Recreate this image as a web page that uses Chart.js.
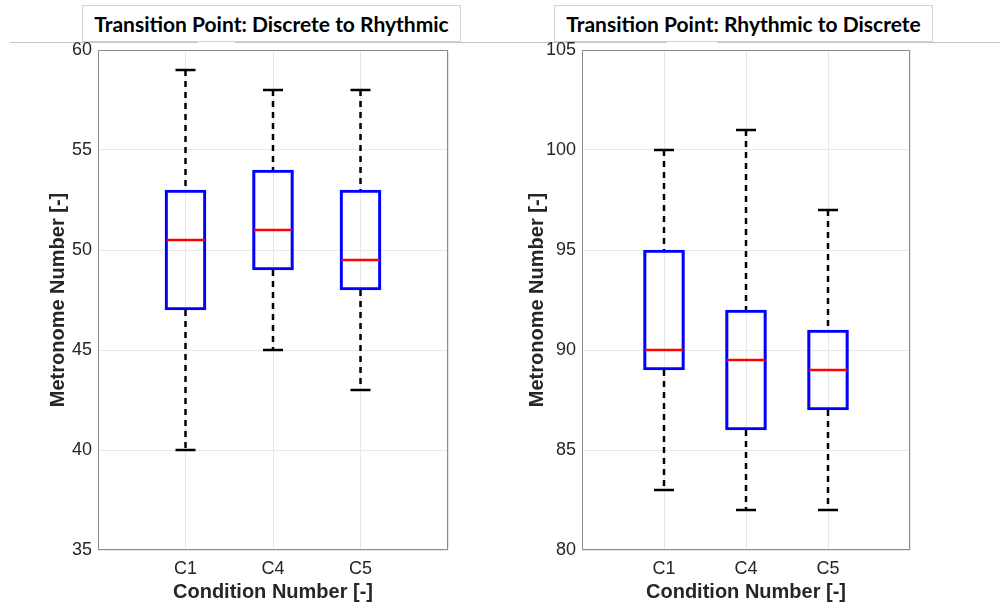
<!DOCTYPE html>
<html>
<head>
<meta charset="utf-8">
<script src="https://cdn.jsdelivr.net/npm/chart.js@4.4.1/dist/chart.umd.min.js"></script>
<style>
  html, body { margin: 0; padding: 0; background: #fff; }
  #page { position: relative; width: 1000px; height: 614px; overflow: hidden; }
  canvas { position: absolute; top: 0; }
  .rule { position: absolute; top: 42px; height: 1px; background: #c4c4c4; }
  .title-box {
    position: absolute; top: 5px; height: 37px; background: #fff;
    border: 1px solid #d2d2d2; box-sizing: border-box;
    font-family: Lato, "Open Sans", sans-serif; font-weight: bold; font-size: 21px;
    color: #000; text-align: center; line-height: 36px; z-index: 2;
  }
</style>
</head>
<body>
<div id="page">
  <div class="rule" style="left:10px; width:188px;"></div>
  <div class="rule" style="left:235px; width:432px;"></div>
  <div class="rule" style="left:717px; width:283px;"></div>
  <div class="title-box" style="left:82px; width:379px;">Transition Point: Discrete to Rhythmic</div>
  <div class="title-box" style="left:554px; width:379px;">Transition Point: Rhythmic to Discrete</div>
  <canvas id="left" width="500" height="614" style="left:0;"></canvas>
  <canvas id="right" width="500" height="614" style="left:500px;"></canvas>
</div>
<script>
// Conditions on the x axis
const categories = ['C1', 'C4', 'C5'];

// Discrete -> rhythmic transition (metronome number)
const drMin = [40, 45, 43];
const drQ1 = [47, 49, 48];
const drMedian = [50.5, 51, 49.5];
const drQ3 = [53, 54, 53];
const drMax = [59, 58, 58];

// Rhythmic -> discrete transition (metronome number)
const rdMin = [83, 82, 82];
const rdQ1 = [89, 86, 87];
const rdMedian = [90, 89.5, 89];
const rdQ3 = [95, 92, 91];
const rdMax = [100, 101, 97];

// y axis ranges
const drRange = [35, 60];
const rdRange = [80, 105];

const tickFont = { family: '"Liberation Sans", Arial, sans-serif', size: 18 };
const titleFont = { family: '"Liberation Sans", Arial, sans-serif', size: 20, weight: 'bold' };

// whiskers, caps, medians and the axes frame
const boxExtras = {
    id: 'boxExtras',
    beforeDatasetsDraw(chart) {
        const { ctx, scales: { x, y } } = chart;
        const s = chart.options.plugins.boxExtras;
        ctx.save();
        ctx.strokeStyle = '#000';
        ctx.lineWidth = 2.5;
        s.min.forEach((v, i) => {
            const px = x.getPixelForValue(i + 1);
            ctx.setLineDash([6, 5]);
            ctx.beginPath();
            ctx.moveTo(px, y.getPixelForValue(s.max[i]));
            ctx.lineTo(px, y.getPixelForValue(s.q3[i]));
            ctx.moveTo(px, y.getPixelForValue(s.q1[i]));
            ctx.lineTo(px, y.getPixelForValue(v));
            ctx.stroke();
            ctx.setLineDash([]);
            ctx.beginPath();
            [v, s.max[i]].forEach(w => {
                const py = y.getPixelForValue(w);
                ctx.moveTo(px - 10, py);
                ctx.lineTo(px + 10, py);
            });
            ctx.stroke();
        });
        ctx.restore();
    },
    afterDatasetsDraw(chart) {
        const { ctx, chartArea: a, scales: { x, y } } = chart;
        const s = chart.options.plugins.boxExtras;
        ctx.save();
        ctx.strokeStyle = '#ff0000';
        ctx.lineWidth = 2.5;
        s.median.forEach((v, i) => {
            const px = x.getPixelForValue(i + 1);
            const py = y.getPixelForValue(v);
            ctx.beginPath();
            ctx.moveTo(px - 19, py);
            ctx.lineTo(px + 19, py);
            ctx.stroke();
        });
        ctx.strokeStyle = '#8a8a8a';
        ctx.lineWidth = 1;
        ctx.strokeRect(a.left + 0.5, a.top + 0.5, a.right - a.left - 1, a.bottom - a.top - 1);
        ctx.restore();
    }
};

function makeBoxChart(id, stats, range, axisWidth, titlePad, padRight) {
    new Chart(document.getElementById(id), {
        type: 'bar',
        data: {
            datasets: [{
                data: stats.q1.map((q, i) => ({ x: i + 1, y: [q, stats.q3[i]] })),
                backgroundColor: 'rgba(0,0,0,0)',
                borderColor: '#0000ff',
                borderWidth: 2.5,
                borderSkipped: false,
                barThickness: 41
            }]
        },
        options: {
            responsive: false,
            animation: false,
            layout: { padding: { top: 50, right: padRight, bottom: 0, left: 0 } },
            plugins: {
                legend: { display: false },
                tooltip: { enabled: false },
                boxExtras: stats
            },
            scales: {
                x: {
                    type: 'linear',
                    min: 0,
                    max: 4,
                    offset: false,
                    grid: { color: '#e8e8e8', drawTicks: false, offset: false },
                    border: { display: false },
                    ticks: {
                        stepSize: 1,
                        padding: 8,
                        color: '#262626',
                        font: tickFont,
                        callback: v => categories[v - 1] || ''
                    },
                    title: {
                        display: true,
                        text: 'Condition Number [-]',
                        color: '#262626',
                        font: titleFont,
                        padding: { top: 0, bottom: 10 }
                    },
                    afterFit: scale => { scale.height = 64; }
                },
                y: {
                    min: range[0],
                    max: range[1],
                    grid: { color: '#e8e8e8', drawTicks: false },
                    border: { display: false },
                    ticks: {
                        stepSize: 5,
                        padding: 6,
                        color: '#262626',
                        font: tickFont
                    },
                    title: {
                        display: true,
                        text: 'Metronome Number [-]',
                        color: '#262626',
                        font: titleFont,
                        padding: { top: titlePad, bottom: 0 }
                    },
                    afterFit: scale => { scale.width = axisWidth; }
                }
            }
        },
        plugins: [boxExtras]
    });
}

makeBoxChart('left', { min: drMin, q1: drQ1, median: drMedian, q3: drQ3, max: drMax }, drRange, 98, 46, 52);
makeBoxChart('right', { min: rdMin, q1: rdQ1, median: rdMedian, q3: rdQ3, max: rdMax }, rdRange, 82, 25, 90);
</script>
</body>
</html>
